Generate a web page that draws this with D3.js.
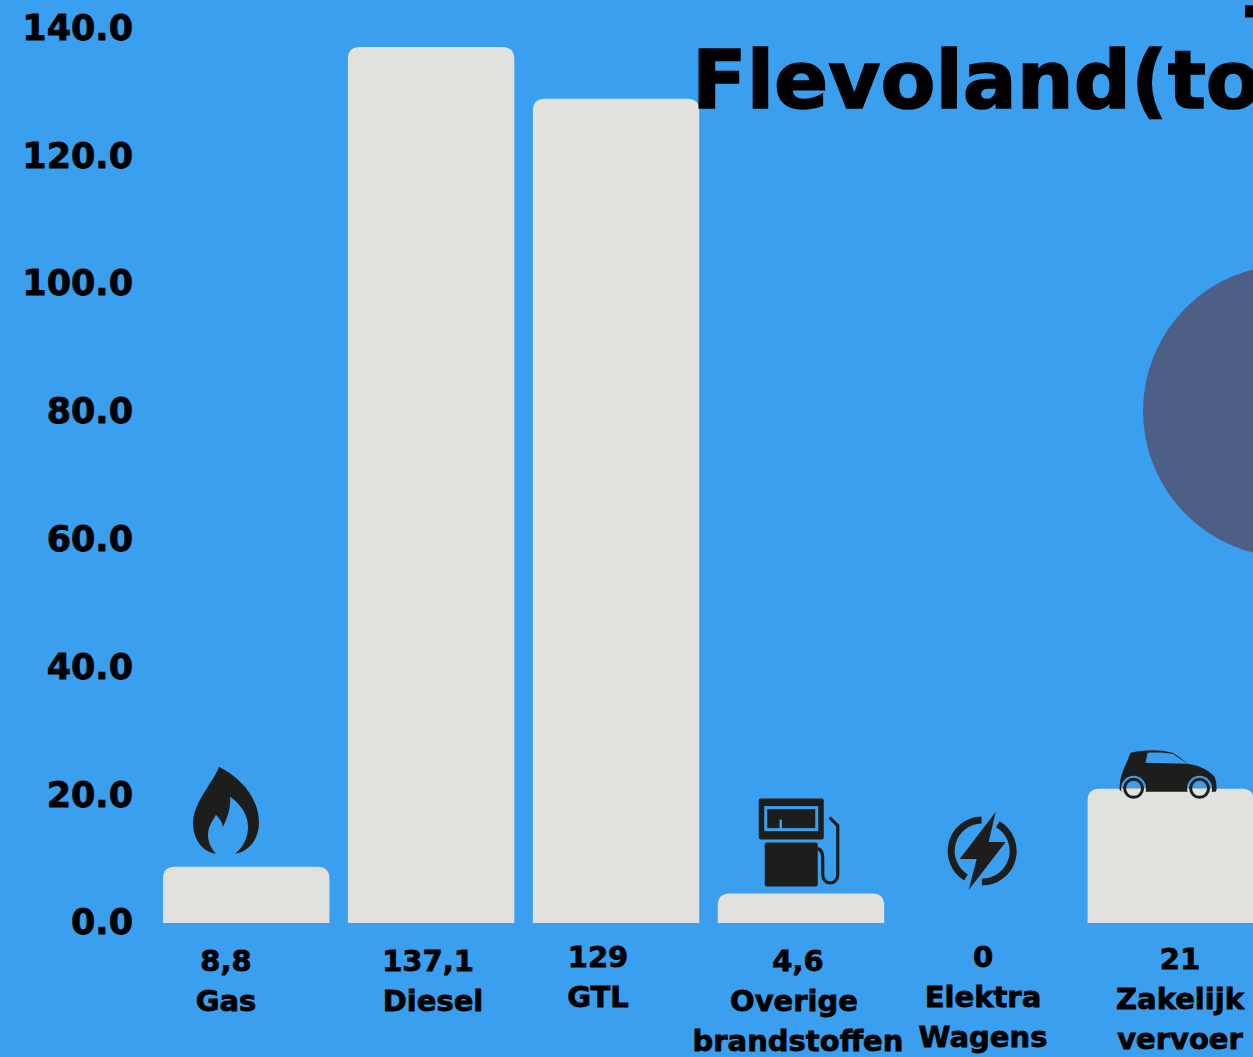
<!DOCTYPE html>
<meta charset="utf-8">
<style>
html, body { margin: 0; padding: 0; background: #3a9fee; overflow: hidden; }
svg { display: block; }
text { font-family: "DejaVu Sans", sans-serif; font-weight: bold; fill: #000; stroke: #000; stroke-width: 0.8px; }
</style>
<svg width="1253" height="1057"></svg>
<script src="https://d3js.org/d3.v7.min.js"></script>
<script>

var categories = ["Gas", "Diesel", "GTL", "Overige brandstoffen", "Elektra Wagens", "Zakelijk vervoer"];
var values = [8.8, 137.1, 129, 4.6, 0, 21];
var valueLabels = ["8,8", "137,1", "129", "4,6", "0", "21"];
var tickValues = [0, 20, 40, 60, 80, 100, 120, 140];

// label block for each bar: centre x of the value, y of the value, wrapped name lines
var labelX = [226, 428, 598, 798, 983, 1180];
var labelY = [971, 971, 967, 971, 967, 969];
var labelLines = [["Gas"], ["Diesel"], ["GTL"], ["Overige", "brandstoffen"], ["Elektra", "Wagens"], ["Zakelijk", "vervoer"]];
var nameX = [[226], [433], [598], [794, 798], [983, 983], [1180, 1180]];

var svg = d3.select("svg");

var x = d3.scaleBand()
    .domain(categories)
    .range([144.5, 1272.5])
    .padding(0.1);

var y = d3.scaleLinear()
    .domain([0, 140])
    .range([923, 28.5]);

// circle of the cropped pie on the right
svg.append("circle")
    .attr("cx", 1289).attr("cy", 411).attr("r", 146)
    .attr("fill", "#4d5f85");

// bars: rounded on top, square at the baseline
function barPath(d, i) {
  var x0 = x(categories[i]), w = x.bandwidth(), top = y(d), bottom = y(0);
  var r = Math.min(12, bottom - top);
  if (d === 0) return "";
  return "M" + x0 + "," + bottom + "V" + (top + r) +
    "Q" + x0 + "," + top + " " + (x0 + r) + "," + top +
    "H" + (x0 + w - r) +
    "Q" + (x0 + w) + "," + top + " " + (x0 + w) + "," + (top + r) +
    "V" + bottom + "Z";
}

svg.selectAll(".bar")
    .data(values)
    .enter().append("path")
    .attr("class", "bar")
    .attr("fill", "#e1e2de")
    .attr("d", barPath);

// y axis
var yAxis = d3.axisLeft(y)
    .tickValues(tickValues)
    .tickFormat(d3.format(".1f"))
    .tickSize(0)
    .tickPadding(0);

var gy = svg.append("g")
    .attr("transform", "translate(133,0)")
    .call(yAxis);
gy.select(".domain").remove();
gy.selectAll("text")
    .style("font-size", "35px")
    .style("font-family", '"DejaVu Sans", sans-serif')
    .attr("dy", "0.31em");

// value and category labels
var labels = svg.selectAll(".label")
    .data(categories)
    .enter().append("g")
    .attr("class", "label");

labels.append("text")
    .attr("text-anchor", "middle")
    .attr("x", function(d, i) { return labelX[i]; })
    .attr("y", function(d, i) { return labelY[i]; })
    .style("font-size", "29px")
    .text(function(d, i) { return valueLabels[i]; });

labels.each(function(d, i) {
  d3.select(this).selectAll(".name")
    .data(labelLines[i])
    .enter().append("text")
    .attr("class", "name")
    .attr("text-anchor", "middle")
    .attr("x", function(s, j) { return nameX[i][j]; })
    .attr("y", function(s, j) { return labelY[i] + 40 * (j + 1); })
    .style("font-size", "29px")
    .text(s => s);
});

// title, cropped by the window
svg.append("text")
    .attr("x", 692)
    .attr("y", 108)
    .style("font-size", "80px")
    .style("stroke-width", "1.6px")
    .text("Flevoland(ton)");

svg.append("text")
    .attr("x", 1241)
    .attr("y", 34)
    .style("font-size", "80px")
    .text("-");

// icons, drawn in their own small box and placed over their bar
var iconDark = "#1d1d1b", bg = "#3a9fee", barFill = "#e1e2de";

var flame = svg.append("g").attr("transform", "translate(" + (x("Gas") + 30) + "," + (y(8.8) - 100) + ")");
flame.append("path")
    .attr("fill", iconDark)
    .attr("d", "M26,0 C46,10 66,30 66,56 C66,72 56,85 42,87 C51,80 55,70 55,60 C55,47 47,37 37,30 C38,40 35,50 30,60 C29,55 26,51 23,48 C19,55 15,60 15,68 C15,76 19,83 23,87 C9,85 0,72 0,56 C0,42 10,28 16,18 C20,12 24,6 26,0 Z");

var pump = svg.append("g").attr("transform", "translate(" + (x("Overige brandstoffen") + 41) + "," + (y(4.6) - 95) + ")");
pump.append("rect").attr("width", 65).attr("height", 41).attr("rx", 2).attr("fill", iconDark);
pump.append("rect").attr("x", 7).attr("y", 9).attr("width", 51).attr("height", 22).attr("fill", "none").attr("stroke", bg).attr("stroke-width", 3);
pump.append("path").attr("d", "M22,31V21").attr("stroke", bg).attr("stroke-width", 2.5);
pump.append("rect").attr("x", 6).attr("y", 44).attr("width", 53).attr("height", 44).attr("rx", 2).attr("fill", iconDark);
pump.append("path").attr("fill", "none").attr("stroke", iconDark).attr("stroke-width", 3.2)
    .attr("d", "M59,50 C63,51 64,55 64,60 V76 C64,87 79,87 79,76 V27 L71,19");

var bolt = svg.append("g").attr("transform", "translate(" + (x("Elektra Wagens") + 45) + ",811)");
bolt.append("path").attr("fill", iconDark)
    .attr("d", "M48,1 L12,48 L29,48 L21,79 L58,31 L41,31 Z");
var arc = d3.arc().innerRadius(27.5).outerRadius(34.5);
bolt.append("path").attr("fill", iconDark).attr("transform", "translate(34.5,40)")
    .attr("d", arc({startAngle: -2.59, endAngle: -0.02}));
bolt.append("path").attr("fill", iconDark).attr("transform", "translate(34.5,40)")
    .attr("d", arc({startAngle: 0.53, endAngle: 3.15}));

var car = svg.append("g").attr("transform", "translate(" + (x("Zakelijk vervoer") + 32) + "," + (y(21) - 39) + ")");
car.append("path").attr("fill", iconDark)
    .attr("d", "M11,3 C22,0 40,-1 53,3 C59,6 63,10 68,14 C78,16 87,18 95,27 C97,32 97,36 97,40 L96,42 L2,42 L0,40 C0,33 1,25 7,13 Z");
car.append("path").attr("fill", bg)
    .attr("d", "M28,3 C38,2 48,3 53,4 C58,7 63,11 68,14 L26,13 Z");
var wheelTop = d3.arc().innerRadius(0).outerRadius(12.5)({startAngle: -Math.PI / 2, endAngle: Math.PI / 2});
var wheelBottom = d3.arc().innerRadius(0).outerRadius(12.5)({startAngle: Math.PI / 2, endAngle: 3 * Math.PI / 2});
[14, 80].forEach(function(cx) {
  var w = car.append("g").attr("transform", "translate(" + cx + ",38.5)");
  w.append("path").attr("d", wheelTop).attr("fill", bg);
  w.append("path").attr("d", wheelBottom).attr("fill", barFill);
  w.append("circle").attr("r", 9).attr("fill", "none").attr("stroke", iconDark).attr("stroke-width", 3);
});

</script>
